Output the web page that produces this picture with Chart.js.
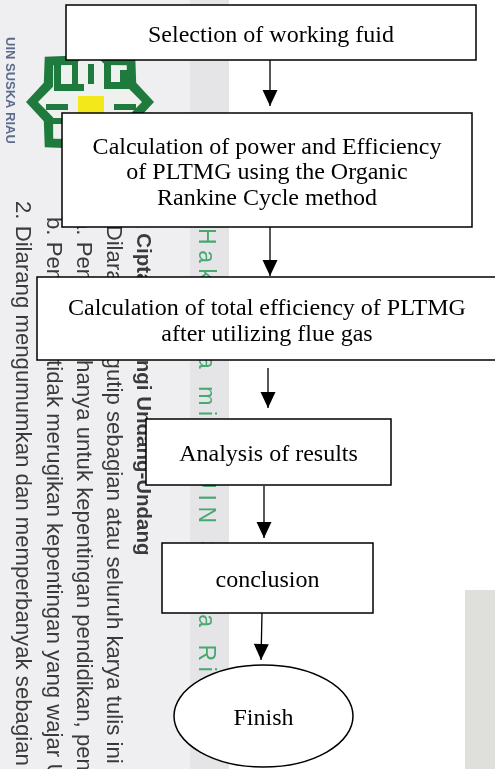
<!DOCTYPE html>
<html lang="en">
<head>
<meta charset="UTF-8">
<title>Research Flowchart</title>
<script src="https://cdn.jsdelivr.net/npm/chart.js"></script>
<style>
    html, body { margin: 0; padding: 0; background: #fff; }
    .chart-box { width: 495px; height: 769px; position: relative; }
</style>
</head>
<body>
<div class="chart-box"><canvas id="flowChart"></canvas></div>
<script>
// flowchart steps, top to bottom
const stepLabels = [
    ['Selection of working fuid'],
    ['Calculation of power and Efficiency', 'of PLTMG using the Organic', 'Rankine Cycle method'],
    ['Calculation of total efficiency of PLTMG', 'after utilizing flue gas'],
    ['Analysis of results'],
    ['conclusion'],
    ['Finish']
];
const stepShape = ['box', 'box', 'box', 'box', 'box', 'ellipse'];
// extents of each step in chart units (x 0-495, y 0-769 counted from the top)
const stepLeft = [66, 62, 37, 146, 162, 174];
const stepRight = [476, 472, 497, 391, 373, 353];
const stepTop = [5, 113, 277, 419, 543, 665];
const stepBottom = [60, 227, 360, 485, 613, 767];
// arrows between the steps
const arrowX0 = [270, 270, 268, 264, 262];
const arrowX1 = [270, 270, 268, 264, 261];
const arrowY0 = [60, 227, 368, 486, 613];
const arrowY1 = [106, 276, 408, 538, 660];

// watermark of the scanned page
const noticeLines = [
    '2. Dilarang mengumumkan dan memperbanyak sebagian atau seluruh karya tulis ini dalam bentuk apapun tanpa izin UIN Suska Riau.',
    'b. Pengutipan tidak merugikan kepentingan yang wajar UIN Suska Riau.',
    'a. Pengutipan hanya untuk kepentingan pendidikan, penelitian, penulisan karya ilmiah, penyusunan laporan, penulisan kritik atau tinjauan suatu masalah.',
    '1. Dilarang mengutip sebagian atau seluruh karya tulis ini tanpa mencantumkan dan menyebutkan sumber:',
    'Hak Cipta Dilindungi Undang-Undang'
];
const noticeCol = [22, 53, 83, 113, 143];
const noticeStart = [201, 217, 217, 200, 190];
const greenMark = 'Hak cipta milik UIN Suska Riau';
const campusMark = 'UIN SUSKA RIAU';

function rotText(ctx, text, x, y, font, color, spacing, maxW) {
    ctx.save();
    ctx.translate(x, y);
    ctx.rotate(Math.PI / 2);
    ctx.font = font;
    ctx.fillStyle = color;
    ctx.textAlign = 'left';
    ctx.textBaseline = 'middle';
    ctx.letterSpacing = (spacing || 0) + 'px';
    if (maxW) ctx.fillText(text, 0, 0, maxW); else ctx.fillText(text, 0, 0);
    ctx.restore();
}

function starPath(ctx, cx, cy, rOut, rIn) {
    ctx.beginPath();
    for (let k = 0; k < 16; k++) {
        const a = k * Math.PI / 8;
        const r = k % 2 === 0 ? rOut : rIn;
        const px = cx + r * Math.cos(a), py = cy + r * Math.sin(a);
        if (k === 0) ctx.moveTo(px, py); else ctx.lineTo(px, py);
    }
    ctx.closePath();
}

function drawLogo(ctx, cx, cy) {
    ctx.save();
    ctx.fillStyle = '#1f7a3e';
    starPath(ctx, cx, cy, 64, 50);
    ctx.fill();
    ctx.fillStyle = '#eef1ee';
    starPath(ctx, cx, cy, 52, 40);
    ctx.fill();
    ctx.fillStyle = '#1f7a3e';
    // rough calligraphy strokes
    ctx.fillRect(cx - 36, cy - 44, 7, 30);
    ctx.fillRect(cx - 36, cy - 18, 30, 7);
    ctx.fillRect(cx - 18, cy - 40, 6, 22);
    ctx.fillRect(cx - 2, cy - 38, 6, 20);
    ctx.fillRect(cx + 14, cy - 42, 7, 26);
    ctx.fillRect(cx + 14, cy - 20, 26, 7);
    ctx.fillRect(cx + 30, cy - 32, 7, 16);
    ctx.fillRect(cx - 44, cy + 2, 22, 6);
    ctx.fillRect(cx + 24, cy + 2, 22, 6);
    ctx.fillRect(cx - 40, cy + 16, 26, 6);
    ctx.fillStyle = '#f3e81a';
    ctx.fillRect(cx - 12, cy - 6, 26, 30);
    ctx.restore();
}

const backdrop = {
    id: 'backdrop',
    beforeDraw(chart) {
        const ctx = chart.ctx;
        ctx.save();
        ctx.fillStyle = '#ffffff';
        ctx.fillRect(0, 0, chart.width, chart.height);
        ctx.fillStyle = '#efeff1';
        ctx.fillRect(0, 0, 190, chart.height);
        ctx.fillStyle = '#e5e5e7';
        ctx.fillRect(190, 0, 39, chart.height);
        ctx.fillStyle = '#dfdfdb';
        ctx.fillRect(465, 590, 30, chart.height - 590);
        drawLogo(ctx, 90, 102);
        rotText(ctx, campusMark, 10, 37, 'bold 13px "Liberation Sans", Arial, sans-serif', '#5d6b8c', 0, 108);
        noticeLines.forEach((line, i) => {
            const bold = i === noticeLines.length - 1;
            rotText(ctx, line, noticeCol[i], noticeStart[i],
                (bold ? 'bold 20.5px' : '22.2px') + ' "Liberation Sans", Arial, sans-serif', '#3a3a3a');
        });
        rotText(ctx, greenMark, 205, 228, '23px "Liberation Sans", Arial, sans-serif', '#47a872', 5.6);
        ctx.restore();
    },
    afterDatasetsDraw(chart) {
        const ctx = chart.ctx;
        const sx = chart.scales.x, sy = chart.scales.y;
        ctx.save();
        // arrow heads
        ctx.fillStyle = '#000';
        arrowX1.forEach((x, i) => {
            const tx = sx.getPixelForValue(x), ty = sy.getPixelForValue(arrowY1[i]);
            const bx = sx.getPixelForValue(arrowX0[i]), by = sy.getPixelForValue(arrowY0[i]);
            const ang = Math.atan2(ty - by, tx - bx);
            ctx.save();
            ctx.translate(tx, ty);
            ctx.rotate(ang);
            ctx.beginPath();
            ctx.moveTo(0, 0);
            ctx.lineTo(-16, -7.5);
            ctx.lineTo(-16, 7.5);
            ctx.closePath();
            ctx.fill();
            ctx.restore();
        });
        // steps
        stepLabels.forEach((lines, i) => {
            const l = sx.getPixelForValue(stepLeft[i]), r = sx.getPixelForValue(stepRight[i]);
            const t = sy.getPixelForValue(stepTop[i]), b = sy.getPixelForValue(stepBottom[i]);
            ctx.fillStyle = '#fff';
            ctx.strokeStyle = '#000';
            ctx.lineWidth = 1.5;
            ctx.beginPath();
            if (stepShape[i] === 'ellipse') {
                ctx.ellipse((l + r) / 2, (t + b) / 2, (r - l) / 2, (b - t) / 2, 0, 0, Math.PI * 2);
            } else {
                ctx.rect(l, t, r - l, b - t);
            }
            ctx.fill();
            ctx.stroke();
            ctx.fillStyle = '#000';
            ctx.font = '24px "Liberation Serif", "Times New Roman", serif';
            ctx.textAlign = 'center';
            ctx.textBaseline = 'middle';
            const lh = 25.5;
            const cy = (t + b) / 2 + 3 - (lines.length - 1) * lh / 2;
            lines.forEach((txt, j) => ctx.fillText(txt, (l + r) / 2, cy + j * lh));
        });
        ctx.restore();
    }
};

new Chart(document.getElementById('flowChart'), {
    type: 'scatter',
    data: {
        datasets: arrowX0.map((x, i) => ({
            data: [{ x: x, y: arrowY0[i] }, { x: arrowX1[i], y: arrowY1[i] }],
            showLine: true,
            borderColor: '#000',
            borderWidth: 1.3,
            pointRadius: 0
        }))
    },
    options: {
        responsive: true,
        maintainAspectRatio: false,
        animation: false,
        layout: { padding: 0 },
        scales: {
            x: { type: 'linear', min: 0, max: 495, display: false },
            y: { type: 'linear', min: 0, max: 769, reverse: true, display: false }
        },
        plugins: { legend: { display: false }, tooltip: { enabled: false } }
    },
    plugins: [backdrop]
});
</script>
</body>
</html>
